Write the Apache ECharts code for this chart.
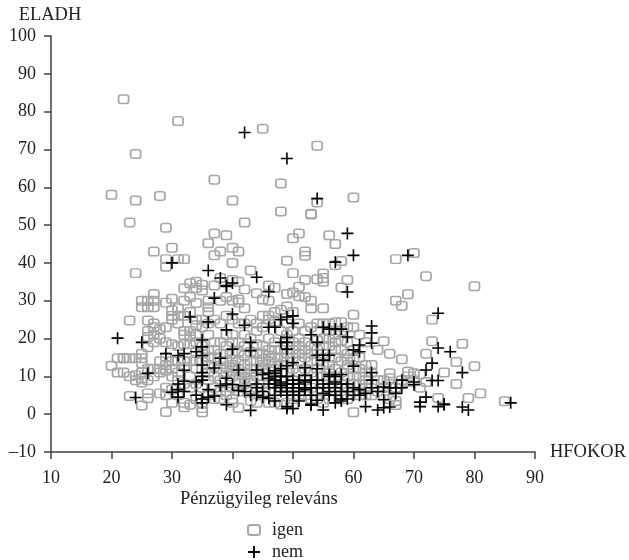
<!DOCTYPE html>
<html><head><meta charset="utf-8">
<style>html,body{margin:0;padding:0;background:#fff}#c{width:629px;height:560px}</style>
<script src="https://cdn.jsdelivr.net/npm/echarts@6/dist/echarts.min.js"></script>
</head><body><div id="c"></div>
<script>
const seriesNames = ['igen', 'nem'];
const xName = 'HFOKOR', yName = 'ELADH', legendTitle = 'Pénzügyileg releváns';
const igen = [
[20,12.8],[20,58],[21,14.8],[21,11],[22,83.3],[22,14.8],[22,11],[22,14.8],[23,50.7],[23,14.8],[23,24.8],[23,4.8],[23,10],[24,56.5],[24,37.3],[24,68.8],[24,14.8],[24,10.3],[24,9],
[25,30],[25,28.3],[25,16],[25,14.8],[25,13.5],[25,8.4],[25,2.3],[25,9.5],[25,11],[26,30],[26,28.3],[26,24.8],[26,22],[26,20.4],[26,17.7],[26,5.5],[26,4.2],[26,9],[26,12],
[27,43],[27,31.8],[27,30],[27,28.3],[27,24],[27,23],[27,19],[27,21],[27,12],[27,10],[28,57.7],[28,20],[28,22.5],[28,14],[28,12],[28,11],[28,5.5],[29,49.3],[29,41],[29,39],[29,29.5],[29,23],[29,19],[29,15],[29,13],[29,11.5],[29,7],[29,0.6],[29,5],
[30,44],[30,30.5],[30,27.5],[30,26],[30,25],[30,18.5],[30,14],[30,12],[30,10],[30,6.5],[30,3],[31,28],[31,41],[31,77.5],[31,26],[31,24],[31,18],[31,14],[31,11],[31,9],[31,5],[32,41],[32,33.3],[32,30],[32,26],[32,22],[32,21],[32,18.5],[32,14],[32,12.5],[32,8],[32,3],[32,1.8],
[33,34.6],[33,31],[33,27],[33,22],[33,20.5],[33,18.5],[33,14],[33,10],[33,7],[33,2.5],[34,35],[34,33.4],[34,29.4],[34,25],[34,23.5],[34,21],[34,19],[34,14],[34,12],[34,8],[34,4],[35,34.2],[35,32.7],[35,25],[35,23],[35,18],[35,14],[35,12],[35,7],[35,1.6],[35,0.5],[35,3],
[36,45.2],[36,30],[36,28.3],[36,27],[36,24],[36,21],[36,17],[36,13],[36,11],[36,9],[36,5],[37,62],[37,47.8],[37,42],[37,34],[37,25],[37,19],[37,17],[37,15],[37,10],[37,7],[37,4],[38,43],[38,36],[38,30],[38,24],[38,19],[38,12],[38,9],[38,6],[38,4],
[39,47.3],[39,31],[39,26],[39,21],[39,18],[39,14],[39,11],[39,6],[39,5],[40,56.5],[40,44],[40,40],[40,35.5],[40,30],[40,25],[40,21],[40,19],[40,16],[40,13],[40,10],[40,7],[40,4],[40,3],
[41,43],[41,35],[41,30.3],[41,29.5],[41,24],[41,19],[41,14],[41,12],[41,9],[41,6],[41,1.7],[42,50.7],[42,33],[42,28],[42,24],[42,21],[42,18],[42,13],[42,11],[42,8],[43,38],[43,25],[43,20],[43,14],[43,12],[43,9],[43,6.5],[43,3.5],[44,32],[44,24],[44,22],[44,16],[44,14],[44,12],[44,10],[44,7],[44,3],
[45,75.5],[45,30.3],[45,26],[45,23],[45,18],[45,16],[45,13],[45,10],[45,8],[45,5],[46,34],[46,30],[46,26],[46,25],[46,20],[46,17],[46,14],[46,12],[46,8],[46,6],[46,3],[47,33.4],[47,27],[47,24.5],[47,19],[47,15],[47,12],[47,9],[47,6],[47,3],
[48,61],[48,53.6],[48,27.6],[48,22],[48,17],[48,13],[48,11],[48,7],[48,2.5],[49,40.6],[49,31.8],[49,28.5],[49,24],[49,21],[49,16],[49,14],[49,11],[49,7],[49,3],[50,46.5],[50,37.3],[50,32.2],[50,27],[50,22],[50,19],[50,15],[50,12],[50,9],[50,4],[50,2.5],
[51,47.8],[51,33.7],[51,31.2],[51,24],[51,20],[51,16],[51,14],[51,11],[51,8],[51,5],[52,43],[52,41.9],[52,35.5],[52,31],[52,22],[52,19],[52,15],[52,12],[52,9],[52,5],[53,52.8],[53,53],[53,30],[53,28],[53,23],[53,18],[53,14],[53,11],[53,7],[53,4],
[54,71],[54,56],[54,35.7],[54,24],[54,22],[54,17],[54,14],[54,10],[54,6],[54,4],[55,37.2],[55,36],[55,35],[55,28],[55,24],[55,20],[55,16],[55,13],[55,10],[55,8],[55,3],[56,47.3],[56,24],[56,22],[56,18],[56,15],[56,13],[56,10],[56,7],[56,4],
[57,45],[57,39.4],[57,24.3],[57,21],[57,19],[57,15],[57,12],[57,9],[57,6],[58,40.5],[58,33.5],[58,24.3],[58,22],[58,17],[58,14],[58,11],[58,8],[58,5],[59,35.5],[59,23],[59,19],[59,16],[59,13],[59,10],[59,7],[59,4],
[60,57.3],[60,26.3],[60,23],[60,17],[60,12],[60,10],[60,8],[60,6],[60,0.5],[61,21],[61,15],[61,12],[61,10],[61,8],[61,5],[62,19],[62,13],[62,11],[62,9],[62,7],[62,5],[63,13],[63,11],[63,8],[63,5],[64,17],[64,9],[64,6],[65,19.3],[65,9],[65,7],[65,5],[66,16],[66,10.8],[66,9.5],[66,8],[66,4],[67,41],[67,30],[67,7],[67,2.4],[67,3.5],
[68,28.7],[68,14.5],[68,9],[68,8],[69,31.7],[69,11.3],[69,8.5],[69,10],[70,42.6],[70,10.8],[70,9],[71,10.5],[71,7],[72,36.5],[72,16],[72,8.5],[73,25],[73,19.3],[74,4.3],[75,11],[77,13.8],[77,8],[78,18.6],[79,4.3],[80,33.8],[80,12.7],[81,5.5],[85,3.4],
[34,16.5],[35,16],[36,15],[37,12.5],[38,16],[38,14],[39,16],[39,12.5],[40,14.5],[40,11.5],[41,16.5],[41,10.5],[42,15.5],[42,9.5],[43,16.5],[43,10.5],[44,18.5],[45,14.5],[45,11.5],[46,15.5],[47,17],[47,13.5],[48,15],[48,9],[49,18],[50,17],[51,18],[52,17],[53,16],[54,19.5],[54,12],[55,18],[56,20],[56,11.5],[57,17],[58,19.5],[59,14.5],[60,14.5]
];
const nem = [
[21,20.1],[24,4.4],[25,19],[26,10.8],[29,16],[30,40],[30,5.8],[31,15.5],[31,8],[31,6.5],[31,4.5],[32,16],[32,11.6],[32,8.7],[32,6],[33,25.7],[34,8.5],[34,16.5],[34,5],
[35,19.6],[35,17.8],[35,15.5],[35,13],[35,11],[35,10],[35,9],[35,4],[35,3],[36,38],[36,24.4],[36,6.5],[36,4.5],[37,30.7],[37,12.2],[37,4.8],[38,36],[38,14.8],[38,7.5],[39,34],[39,33.8],[39,22.3],[39,9.5],[39,8],[39,2.5],[40,34.7],[40,26.5],[40,17.2],[40,7.8],
[41,11.7],[41,6.3],[42,74.5],[42,23.5],[42,7.5],[42,6],[43,19],[43,16.8],[43,5],[43,1],[44,36.2],[44,11.7],[44,8],[44,7],[44,5],[45,10.5],[45,6],[45,4.5],[46,32.4],[46,23],[46,10.8],[46,9.5],[46,4.2],[46,8],[47,23],[47,11.5],[47,10.8],[47,10],[47,9],[47,8],[47,7],[47,5],[47,3.5],
[48,25],[48,19],[48,12],[48,10],[48,8.5],[48,7.5],[48,6],[49,67.6],[49,25.7],[49,20.3],[49,19],[49,17.2],[49,12.8],[49,10],[49,8],[49,7],[49,6],[49,5],[49,2],[49,1.5],[50,26],[50,24],[50,13.6],[50,9],[50,8],[50,7],[50,6],[50,5],[50,1.5],[51,9],[51,8],[51,7],[51,6],[51,5],[51,3.5],
[52,12.3],[52,10.3],[52,8.5],[52,7],[52,6.5],[53,21],[53,9],[53,7],[53,5],[53,2.6],[53,2.4],[54,57],[54,19],[54,15.6],[54,12],[54,9],[54,7],[54,3.7],[55,23],[55,14.3],[55,15.6],[55,1.1],[55,8],[55,7],[55,5.5],[56,22.5],[56,15.6],[56,10.5],[56,10],[56,8],[56,6],[56,5],[57,40.2],[57,22.5],[57,10],[57,8.5],[57,7],[57,5],[57,3],[58,22.5],[58,10.5],[58,8],[58,6],[58,4],[58,3.5],
[59,47.8],[59,32.3],[59,20.4],[59,8],[59,6],[59,4],[60,42],[60,17],[60,12.7],[60,7],[60,5],[61,18.3],[61,16.5],[61,6.5],[61,5],[62,2],[62,5.5],[63,23.3],[63,21.5],[63,18.8],[63,11],[63,9],[63,7],[64,1.1],[64,6],[65,7.2],[65,3.8],[65,1.7],[66,1.9],[66,7],[67,5.5],[67,7],[68,9],[68,7],
[69,42],[70,8.5],[70,7.8],[71,3.2],[71,2],[72,11.7],[72,4.5],[73,13.5],[73,8.9],[74,26.7],[74,17.5],[74,8.9],[74,2],[75,2.7],[75,2.5],[76,16.5],[78,11],[78,1.9],[79,1.1],[86,3]
];
const serif = '"Liberation Serif","Times New Roman",serif';
const plus = 'path://M0 5H10M5 0V10';
const textColor = '#222';
const chart = echarts.init(document.getElementById('c'), null, {renderer:'canvas'});
const axisCommon = {
  type:'value', splitLine:{show:false},
  axisLine:{show:true,onZero:false,lineStyle:{color:'#404040',width:1.5}},
  axisTick:{show:true,length:7,lineStyle:{color:'#404040',width:1.5}},
  axisLabel:{color:textColor,fontFamily:serif,fontSize:18,hideOverlap:false,showMinLabel:true,showMaxLabel:true,formatter:v=>String(v).replace('-','–')}
};
const legendCommon = {orient:'horizontal',left:242,itemWidth:12,
  textStyle:{color:textColor,fontFamily:serif,fontSize:18,padding:[0,0,0,7]}};
chart.setOption({
  animation:false,
  backgroundColor:'#fff',
  title:{text:legendTitle,left:175,top:485,textStyle:{color:textColor,fontFamily:serif,fontSize:18.5,fontWeight:'normal'}},
  grid:{left:51,right:94,top:36,bottom:108},
  xAxis:Object.assign({},axisCommon,{min:10,max:90,interval:10,name:xName,nameLocation:'end',nameGap:15,
    axisLabel:Object.assign({},axisCommon.axisLabel,{margin:17}),
    nameTextStyle:{color:textColor,fontFamily:serif,fontSize:18.5,padding:[5,0,0,0]}}),
  yAxis:Object.assign({},axisCommon,{min:-10,max:100,interval:10,name:yName,nameLocation:'end',nameGap:11,
    axisLabel:Object.assign({},axisCommon.axisLabel,{margin:15,padding:[4,0,0,0]}),
    nameTextStyle:{color:textColor,fontFamily:serif,fontSize:18.5,align:'center',padding:[0,2,0,0]}}),
  legend:[Object.assign({},legendCommon,{top:516,itemHeight:10,data:[seriesNames[0]]}),
          Object.assign({},legendCommon,{top:538,itemHeight:12,data:[seriesNames[1]]})],
  series:[
    {name:seriesNames[0],type:'scatter',data:igen,symbol:'roundRect',symbolSize:[10,8.5],
     itemStyle:{color:'rgba(255,255,255,0)',borderColor:'#a6a6a6',borderWidth:1.6,opacity:1}},
    {name:seriesNames[1],type:'scatter',data:nem,symbol:plus,symbolSize:12,
     itemStyle:{color:'rgba(0,0,0,0)',borderColor:'#000',borderWidth:1.6,opacity:1}}
  ]
});
</script></body></html>
